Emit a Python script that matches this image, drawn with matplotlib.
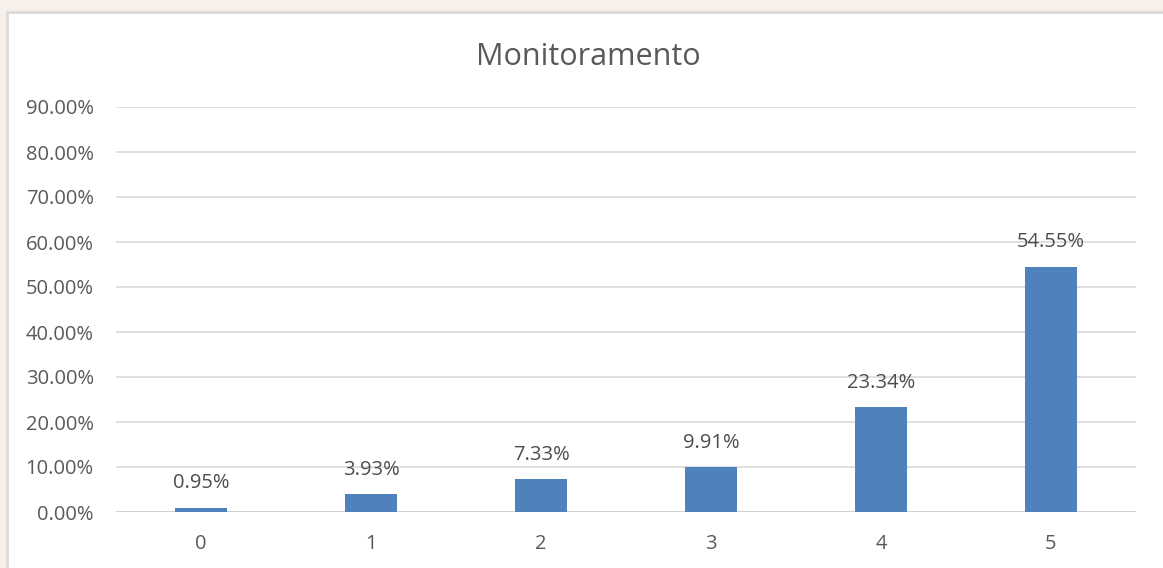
import matplotlib.pyplot as plt
from matplotlib.patches import Rectangle

categories = ['0', '1', '2', '3', '4', '5']
values = [0.95, 3.93, 7.33, 9.91, 23.34, 54.55]
yticks = [0, 10, 20, 30, 40, 50, 60, 70, 80, 90]

plt.rcParams['font.family'] = ['Open Sans', 'DejaVu Sans']

fig = plt.figure(figsize=(11.63, 5.68), dpi=100)
fig.patch.set_facecolor('#f7efe9')

# caixa branca do grafico (estilo Excel)
box = Rectangle((7 / 1163, -0.05), 1.2, 1 - 12 / 568 + 0.05, transform=fig.transFigure,
                facecolor='white', edgecolor='#d9d9d9', linewidth=2, zorder=-5)
fig.patches.append(box)

ax = fig.add_axes([116 / 1163, 1 - 512 / 568, 1020 / 1163, 405 / 568])
ax.set_facecolor('none')
x = range(len(categories))
bars = ax.bar(x, values, width=0.31, color='#4f81bd', zorder=3)
for xi, v in zip(x, values):
    ax.text(xi, v + 3.2, f'{v:.2f}%', ha='center', va='bottom', fontsize=14.5, color='#4d4d4d')

ax.set_xlim(-0.5, len(categories) - 0.5)
ax.set_ylim(0, 90)
ax.set_yticks(yticks)
ax.set_yticklabels([f'{t:.2f}%' for t in yticks])
ax.set_xticks(list(x))
ax.set_xticklabels(categories)
ax.grid(axis='y', color='#d9d9d9', linewidth=1.2, zorder=0)
for s in ax.spines.values():
    s.set_visible(False)
ax.axhline(0, color='#d0d0d0', linewidth=1.4, zorder=2)
ax.tick_params(length=0, labelsize=14.5, colors='#595959')
ax.tick_params(axis='y', pad=16)
ax.tick_params(axis='x', pad=16)
fig.text(588 / 1163, 1 - 57 / 568, 'Monitoramento', ha='center', va='center', fontsize=22, color='#595959')

fig.savefig('out.png', dpi=100, facecolor=fig.get_facecolor())
